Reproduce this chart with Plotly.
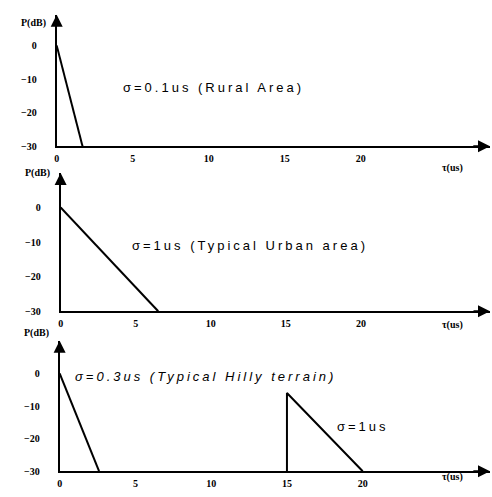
import plotly.graph_objects as go

# ---- data ----
rural_tau = [0, 1.7]
rural_db = [0, -30]
urban_tau = [0, 6.5]
urban_db = [0, -30]
hilly1_tau = [0, 2.6]
hilly1_db = [0, -30]
hilly2_tau = [15, 15, 20]
hilly2_db = [-30, -6, -30]
x_ticks = [0, 5, 10, 15, 20]
y_ticks = [0, -10, -20, -30]

W, H = 492, 497
def px(x): return x / W
def py(y): return 1 - y / H

panels = [
    dict(x0=54, xr=28.5, yb=148, ydb0=46, ytop=15),
    dict(x0=58, xr=28.6, yb=315, ydb0=210, ytop=175),
    dict(x0=57, xr=28.4, yb=477, ydb0=378, ytop=345),
]
xend = 490

fig = go.Figure()
series = [
    [(rural_tau, rural_db)],
    [(urban_tau, urban_db)],
    [(hilly1_tau, hilly1_db), (hilly2_tau, hilly2_db)],
]
tickfont = dict(family="Liberation Serif", size=10, color="black", weight="bold")
for i, (p, ss) in enumerate(zip(panels, series)):
    n = "" if i == 0 else str(i + 1)
    dbpx = (p["yb"] - p["ydb0"]) / 30.0
    ymax = (p["ydb0"] - p["ytop"]) / dbpx
    for (xs, ys) in ss:
        fig.add_trace(go.Scatter(x=xs, y=ys, mode="lines", line=dict(color="black", width=2),
                                 xaxis="x" + n, yaxis="y" + n, showlegend=False, hoverinfo="skip"))
    fig.layout["xaxis" + n] = dict(domain=[px(p["x0"]), px(xend)], range=[0, p["xr"]],
                                   anchor="y" + n, showgrid=False, zeroline=False,
                                   showline=True, linecolor="black", linewidth=2,
                                   tickvals=x_ticks, ticks="", tickfont=tickfont,
                                   ticklabelstandoff=2)
    fig.layout["yaxis" + n] = dict(domain=[py(p["yb"]), py(p["ytop"])], range=[-30, ymax],
                                   anchor="x" + n, showgrid=False, zeroline=False,
                                   showline=True, linecolor="black", linewidth=2,
                                   tickvals=y_ticks, ticks="", tickfont=tickfont,
                                   ticklabelstandoff=16)
    fig.add_annotation(x=p["xr"], y=-30, ax=p["xr"] - 1.2, ay=-30, xref="x" + n, yref="y" + n,
                       axref="x" + n, ayref="y" + n, showarrow=True, arrowhead=2, arrowsize=1.2,
                       arrowwidth=2, arrowcolor="black", text="")
    fig.add_annotation(x=0, y=ymax, ax=0, ay=ymax - 3, xref="x" + n, yref="y" + n,
                       axref="x" + n, ayref="y" + n, showarrow=True, arrowhead=2, arrowsize=1.2,
                       arrowwidth=2, arrowcolor="black", text="")
    fig.add_annotation(x=px(p["x0"] - 9), y=py(p["ytop"]), xref="paper", yref="paper",
                       xanchor="right", text="P(dB)", showarrow=False, font=tickfont)
    fig.add_annotation(x=px(465), y=py(p["yb"] + 14), xref="paper", yref="paper", text="τ(us)",
                       showarrow=False, font=tickfont)

lab = dict(family="Liberation Sans", size=13, color="black")
def sp(t): return '<span style="letter-spacing:3px">' + t + '</span>'
fig.add_annotation(x=10.3, y=-12.4, xref="x", yref="y", text=sp("σ=0.1us (Rural Area)"),
                   showarrow=False, font=lab)
fig.add_annotation(x=12.6, y=-10.9, xref="x2", yref="y2", text=sp("σ=1us (Typical Urban area)"),
                   showarrow=False, font=lab)
fig.add_annotation(x=9.6, y=-1, xref="x3", yref="y3",
                   text="<i>" + sp("σ=0.3us (Typical Hilly terrain)") + "</i>",
                   showarrow=False, font=lab)
fig.add_annotation(x=20, y=-16.2, xref="x3", yref="y3", text=sp("σ=1us"),
                   showarrow=False, font=lab)

fig.update_layout(width=W, height=H, margin=dict(l=0, r=0, t=0, b=0),
                  paper_bgcolor="white", plot_bgcolor="white")
fig.write_html("out.html", config={"displayModeBar": False},
               post_script="document.body.style.margin='0';document.body.style.overflow='hidden';")
